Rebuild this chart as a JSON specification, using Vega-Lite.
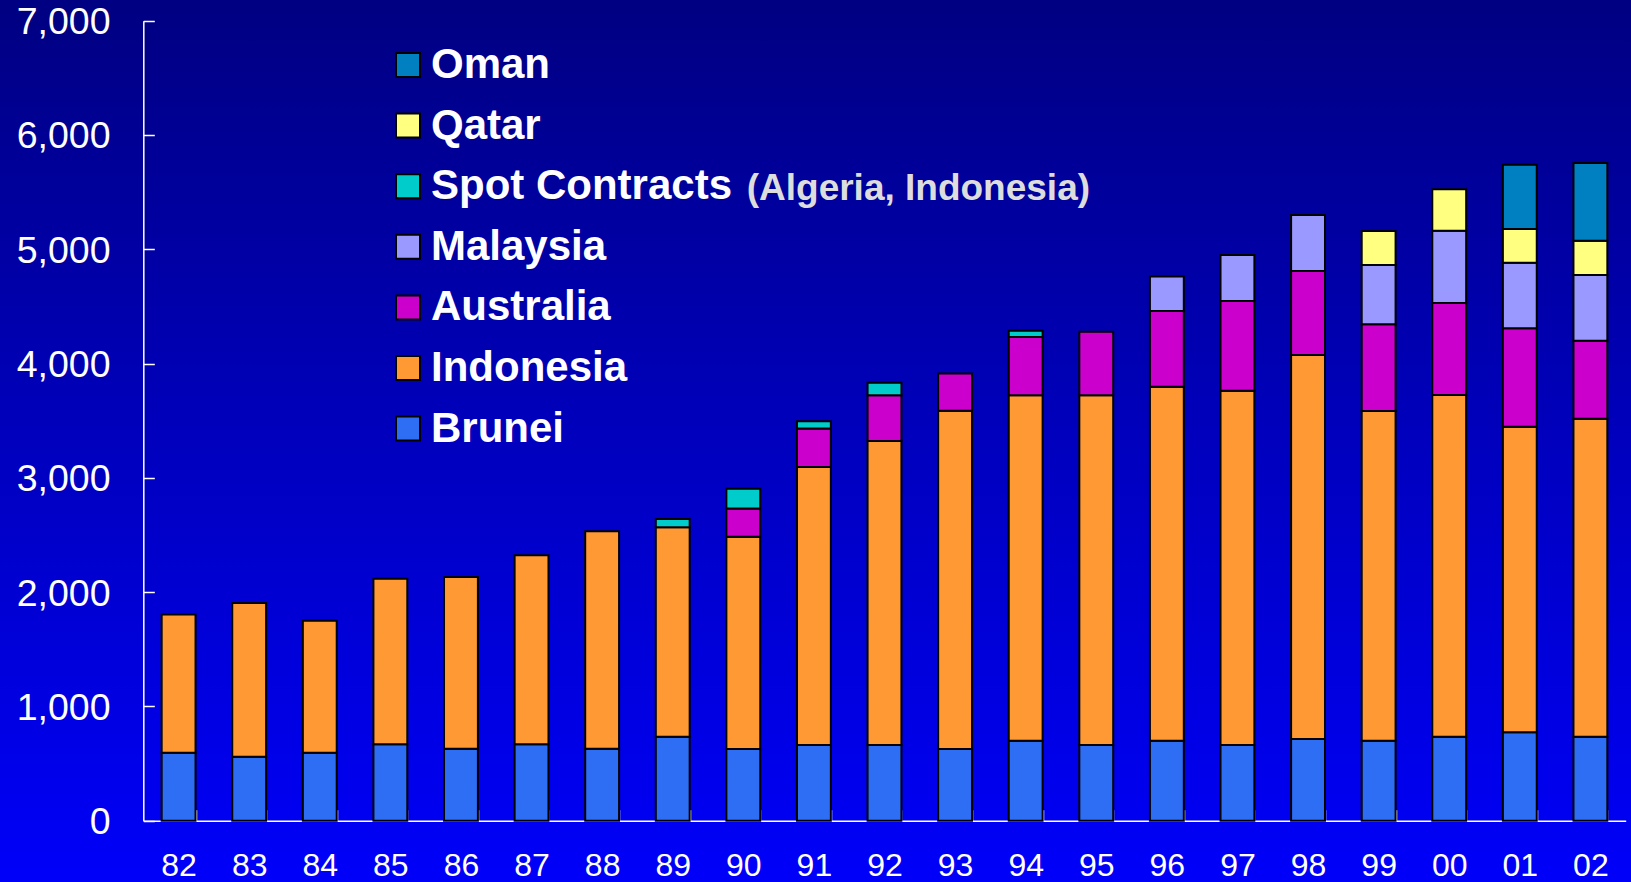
{
  "$schema": "https://vega.github.io/schema/vega-lite/v6.json",
  "width": 1631,
  "height": 882,
  "autosize": {"type": "none"},
  "padding": 0,
  "background": "#0000C0",
  "view": {
    "stroke": null,
    "fill": {
      "gradient": "linear",
      "x1": 0, "y1": 0, "x2": 0, "y2": 1,
      "stops": [
        {"offset": 0, "color": "#000082"},
        {"offset": 1, "color": "#0000FA"}
      ]
    }
  },
  "datasets": {
    "lng": [
      {"year": "82", "country": "Brunei", "value": 595},
      {"year": "82", "country": "Indonesia", "value": 1210},
      {"year": "83", "country": "Brunei", "value": 560},
      {"year": "83", "country": "Indonesia", "value": 1345},
      {"year": "84", "country": "Brunei", "value": 595},
      {"year": "84", "country": "Indonesia", "value": 1155},
      {"year": "85", "country": "Brunei", "value": 668},
      {"year": "85", "country": "Indonesia", "value": 1448},
      {"year": "86", "country": "Brunei", "value": 630},
      {"year": "86", "country": "Indonesia", "value": 1503},
      {"year": "87", "country": "Brunei", "value": 668},
      {"year": "87", "country": "Indonesia", "value": 1655},
      {"year": "88", "country": "Brunei", "value": 630},
      {"year": "88", "country": "Indonesia", "value": 1902},
      {"year": "89", "country": "Brunei", "value": 735},
      {"year": "89", "country": "Indonesia", "value": 1832},
      {"year": "89", "country": "Spot Contracts", "value": 73},
      {"year": "90", "country": "Brunei", "value": 627},
      {"year": "90", "country": "Indonesia", "value": 1858},
      {"year": "90", "country": "Australia", "value": 246},
      {"year": "90", "country": "Spot Contracts", "value": 173},
      {"year": "91", "country": "Brunei", "value": 662},
      {"year": "91", "country": "Indonesia", "value": 2433},
      {"year": "91", "country": "Australia", "value": 337},
      {"year": "91", "country": "Spot Contracts", "value": 63},
      {"year": "92", "country": "Brunei", "value": 662},
      {"year": "92", "country": "Indonesia", "value": 2660},
      {"year": "92", "country": "Australia", "value": 401},
      {"year": "92", "country": "Spot Contracts", "value": 109},
      {"year": "93", "country": "Brunei", "value": 627},
      {"year": "93", "country": "Indonesia", "value": 2959},
      {"year": "93", "country": "Australia", "value": 328},
      {"year": "94", "country": "Brunei", "value": 700},
      {"year": "94", "country": "Indonesia", "value": 3023},
      {"year": "94", "country": "Australia", "value": 510},
      {"year": "94", "country": "Spot Contracts", "value": 54},
      {"year": "95", "country": "Brunei", "value": 662},
      {"year": "95", "country": "Indonesia", "value": 3061},
      {"year": "95", "country": "Australia", "value": 555},
      {"year": "96", "country": "Brunei", "value": 700},
      {"year": "96", "country": "Indonesia", "value": 3096},
      {"year": "96", "country": "Australia", "value": 664},
      {"year": "96", "country": "Malaysia", "value": 301},
      {"year": "97", "country": "Brunei", "value": 662},
      {"year": "97", "country": "Indonesia", "value": 3100},
      {"year": "97", "country": "Australia", "value": 785},
      {"year": "97", "country": "Malaysia", "value": 402},
      {"year": "98", "country": "Brunei", "value": 715},
      {"year": "98", "country": "Indonesia", "value": 3359},
      {"year": "98", "country": "Australia", "value": 735},
      {"year": "98", "country": "Malaysia", "value": 490},
      {"year": "99", "country": "Brunei", "value": 700},
      {"year": "99", "country": "Indonesia", "value": 2884},
      {"year": "99", "country": "Australia", "value": 759},
      {"year": "99", "country": "Malaysia", "value": 519},
      {"year": "99", "country": "Qatar", "value": 297},
      {"year": "00", "country": "Brunei", "value": 735},
      {"year": "00", "country": "Indonesia", "value": 2989},
      {"year": "00", "country": "Australia", "value": 805},
      {"year": "00", "country": "Malaysia", "value": 633},
      {"year": "00", "country": "Qatar", "value": 364},
      {"year": "01", "country": "Brunei", "value": 773},
      {"year": "01", "country": "Indonesia", "value": 2674},
      {"year": "01", "country": "Australia", "value": 861},
      {"year": "01", "country": "Malaysia", "value": 574},
      {"year": "01", "country": "Qatar", "value": 295},
      {"year": "01", "country": "Oman", "value": 562},
      {"year": "02", "country": "Brunei", "value": 735},
      {"year": "02", "country": "Indonesia", "value": 2782},
      {"year": "02", "country": "Australia", "value": 682},
      {"year": "02", "country": "Malaysia", "value": 575},
      {"year": "02", "country": "Qatar", "value": 300},
      {"year": "02", "country": "Oman", "value": 680}
    ],
    "stackOrder": [
      {"country": "Brunei", "rank": 1},
      {"country": "Indonesia", "rank": 2},
      {"country": "Australia", "rank": 3},
      {"country": "Malaysia", "rank": 4},
      {"country": "Spot Contracts", "rank": 5},
      {"country": "Qatar", "rank": 6},
      {"country": "Oman", "rank": 7}
    ],
    "note": [
      {"text": "(Algeria, Indonesia)"}
    ]
  },
  "layer": [
    {
      "data": {"name": "lng"},
      "transform": [
        {"lookup": "country", "from": {"data": {"name": "stackOrder"}, "key": "country", "fields": ["rank"]}}
      ],
      "mark": {"type": "bar", "stroke": "#000000", "strokeWidth": 2},
      "encoding": {
        "x": {
          "field": "year",
          "type": "ordinal",
          "sort": null,
          "scale": {"range": [143.3, 1625.7], "paddingInner": 0.52, "paddingOuter": 0.26},
          "axis": {
            "title": null,
            "orient": "bottom",
            "offset": -61.3,
            "tickBand": "extent",
            "tickSize": -11,
            "tickWidth": 1.5,
            "tickColor": "#FFFFFF",
            "domainColor": "#FFFFFF",
            "domainWidth": 1.5,
            "labelAngle": 0,
            "labelColor": "#FFFFFF",
            "labelFont": "Liberation Sans",
            "labelFontSize": 32,
            "labelPadding": 40.7
          }
        },
        "y": {
          "field": "value",
          "type": "quantitative",
          "stack": "zero",
          "scale": {"domain": [0, 7000], "range": [820.7, 20.7], "nice": false},
          "axis": {
            "title": null,
            "orient": "left",
            "offset": -143.3,
            "values": [0, 1000, 2000, 3000, 4000, 5000, 6000, 7000],
            "format": ",.0f",
            "grid": false,
            "tickSize": -11,
            "tickWidth": 1.5,
            "tickColor": "#FFFFFF",
            "domainColor": "#FFFFFF",
            "domainWidth": 1.5,
            "labelColor": "#FFFFFF",
            "labelFont": "Liberation Sans",
            "labelFontSize": 37.5,
            "labelPadding": 44.3,
            "labelOffset": 2
          }
        },
        "order": {"field": "rank", "type": "quantitative", "sort": "ascending"},
        "color": {
          "field": "country",
          "type": "nominal",
          "scale": {
            "domain": ["Oman", "Qatar", "Spot Contracts", "Malaysia", "Australia", "Indonesia", "Brunei"],
            "range": ["#0080C0", "#FFFF80", "#00CCCC", "#9999FF", "#CC00CC", "#FF9933", "#2E6EF5"]
          },
          "legend": {
            "title": null,
            "orient": "none",
            "legendX": 387,
            "legendY": 44,
            "padding": 0,
            "symbolType": "square",
            "symbolSize": 576,
            "symbolStrokeColor": "#000000",
            "symbolStrokeWidth": 2,
            "labelOffset": 2,
            "rowPadding": 18.6,
            "labelColor": "#FFFFFF",
            "labelFont": "Liberation Sans",
            "labelFontSize": 42,
            "labelFontWeight": "bold",
            "labelLimit": 600
          }
        }
      }
    },
    {
      "data": {"name": "note"},
      "mark": {
        "type": "text",
        "align": "left",
        "baseline": "alphabetic",
        "font": "Liberation Sans",
        "fontSize": 37,
        "fontWeight": "bold",
        "color": "#DDDDDD"
      },
      "encoding": {
        "x": {"datum": "90", "type": "ordinal", "bandPosition": 0.6},
        "y": {"datum": 5430, "type": "quantitative"},
        "text": {"field": "text", "type": "nominal"}
      }
    }
  ]
}
